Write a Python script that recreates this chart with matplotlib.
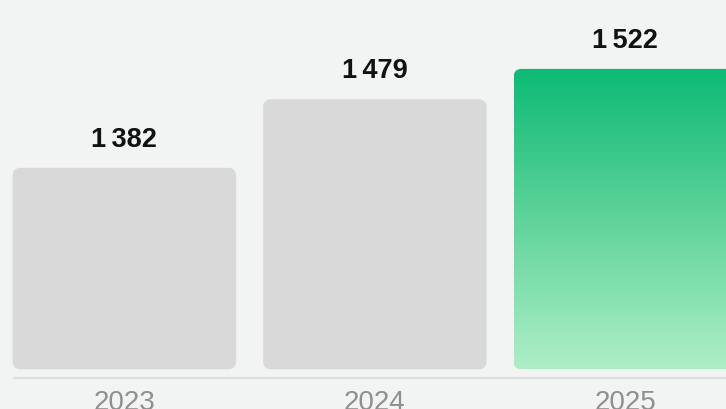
import numpy as np
import matplotlib
matplotlib.use("Agg")
import matplotlib.pyplot as plt
from matplotlib.patches import FancyBboxPatch
from matplotlib.colors import LinearSegmentedColormap

# Data
years = ["2023", "2024", "2025"]
values = [1382, 1479, 1522]
value_labels = ["1\u2009382", "1\u2009479", "1\u2009522"]

# Styling
BG = "#f1f4f3"
GRAY_BAR = "#d8d9d8"
AXIS_LINE = "#dddfde"
YEAR_COLOR = "#8f8f8f"
GREEN_TOP = "#0cba76"
GREEN_BOT = "#aeeec6"
FONT = ["Liberation Sans", "DejaVu Sans"]

W, H, DPI = 726, 409, 100
fig = plt.figure(figsize=(W / DPI, H / DPI), dpi=DPI, facecolor=BG)
ax = fig.add_axes([0, 0, 1, 1], facecolor=BG)
ax.set_axis_off()

# Scales: pixel geometry of the plot area
x_px_per_unit = 250.5
first_center_px = 124.35
bar_width = 0.892
base_value = 1096.8          # value sitting at the bars' bottom edge
y_px_per_unit = 0.7065
base_px_from_top = 369.3

x_left = -first_center_px / x_px_per_unit
x_right = (W - first_center_px) / x_px_per_unit
y_bottom = base_value - (H - base_px_from_top) / y_px_per_unit
y_top = base_value + base_px_from_top / y_px_per_unit
ax.set_xlim(x_left, x_right)
ax.set_ylim(y_bottom, y_top)

radius_px = 8
rx = radius_px / x_px_per_unit
aspect = (1 / y_px_per_unit) / (1 / x_px_per_unit)

green_cmap = LinearSegmentedColormap.from_list("g", [GREEN_BOT, "#5fd39a", GREEN_TOP])

for i, (v, lab) in enumerate(zip(values, value_labels)):
    x0 = i - bar_width / 2
    highlight = i == len(values) - 1
    patch = FancyBboxPatch(
        (x0, base_value), bar_width, v - base_value,
        boxstyle=f"round,pad=0,rounding_size={rx}",
        mutation_aspect=aspect,
        facecolor="none" if highlight else GRAY_BAR,
        edgecolor="none", zorder=2,
    )
    ax.add_patch(patch)
    if highlight:
        grad = np.linspace(0, 1, 256).reshape(-1, 1)
        im = ax.imshow(grad, cmap=green_cmap, aspect="auto", origin="lower",
                       extent=(x0, x0 + bar_width, base_value, v), zorder=2,
                       interpolation="bilinear")
        im.set_clip_path(patch)
    ax.annotate(lab, (i, v), xytext=(0, 21 * 72 / DPI), textcoords="offset points",
                ha="center", va="baseline", fontsize=19.5, fontweight="bold",
                color="#111111", family=FONT, zorder=3)

# Baseline rule under the bars
axis_y = base_value - (377.7 - base_px_from_top) / y_px_per_unit
ax.hlines(axis_y, -bar_width / 2, x_right, color=AXIS_LINE, linewidth=1.6, zorder=1)

for i, yr in enumerate(years):
    ax.annotate(yr, (i, axis_y), xytext=(0, -32 * 72 / DPI), textcoords="offset points",
                ha="center", va="baseline", fontsize=20, color=YEAR_COLOR,
                family=FONT, annotation_clip=False)

fig.savefig("out.png", dpi=DPI, facecolor=BG)
